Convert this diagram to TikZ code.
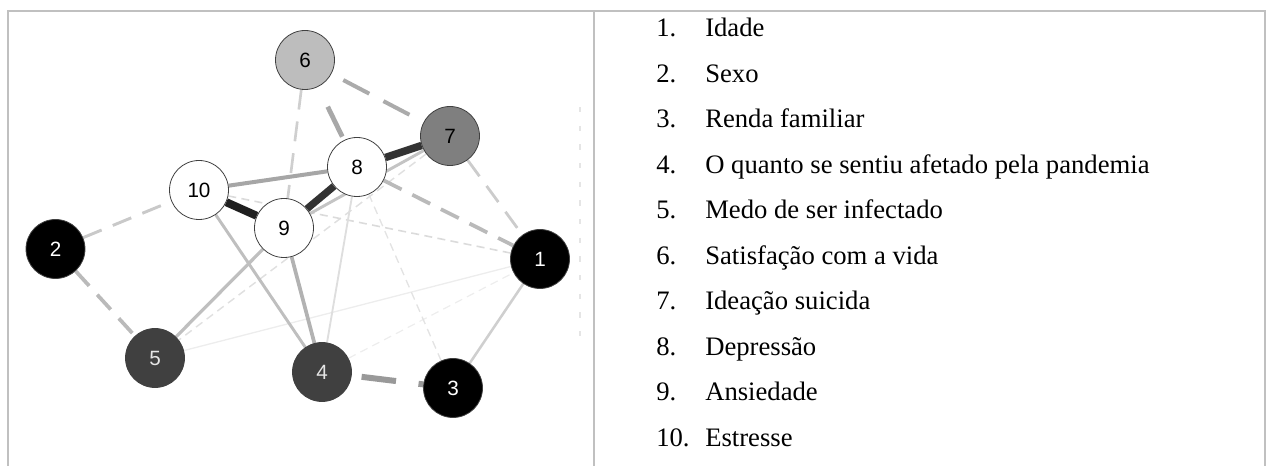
\documentclass[tikz,border=0pt]{standalone}
\usepackage{fontspec}
\setmainfont{Liberation Serif}
\setsansfont{Liberation Sans}
\usepackage{xcolor}
\usetikzlibrary{backgrounds}

\definecolor{rulegray}{HTML}{C0C0C0}
\definecolor{nodedark}{HTML}{404040}
\definecolor{nodemid}{HTML}{7F7F7F}
\definecolor{nodelight}{HTML}{BDBDBD}

\begin{document}
\begin{tikzpicture}[
    x=0.75pt, y=-0.75pt,
    var/.style={circle, draw=black!75, line width=0.6pt, minimum size=44.25pt, inner sep=0pt, font=\sffamily\fontsize{15.5}{16}\selectfont},
    blackvar/.style={var, fill=black, text=white},
    darkvar/.style={var, fill=nodedark, text=white!90!black},
    midvar/.style={var, fill=nodemid},
    lightvar/.style={var, fill=nodelight},
    whitevar/.style={var, fill=white},
    edge/.style={line cap=butt},
    middash/.style={edge, dash pattern=on 15pt off 9pt},
    smalldash/.style={edge, dash pattern=on 6pt off 4pt},
    entry/.style={anchor=base west, inner sep=0pt, font=\fontsize{20}{24}\selectfont},
    rule/.style={draw=rulegray, line width=1.5pt}
]
    \useasboundingbox (0,0) rectangle (1272,466);

    % table frame
    \draw[rule] (8,466) -- (8,11) -- (1265,11) -- (1265,466);
    \draw[rule] (594,11) -- (594,466);
    \draw[gray!20, line width=0.8pt, dash pattern=on 4pt off 10pt] (580,107) -- (580,337);

    % variables
    \node[blackvar] (v1) at (540,259) {1};
    \node[blackvar] (v2) at (55.5,249) {2};
    \node[blackvar] (v3) at (453,388) {3};
    \node[darkvar] (v4) at (322,372) {4};
    \node[darkvar] (v5) at (155,358) {5};
    \node[lightvar] (v6) at (305,60) {6};
    \node[midvar] (v7) at (450,136) {7};
    \node[whitevar] (v8) at (357,167) {8};
    \node[whitevar] (v9) at (284,228) {9};
    \node[whitevar] (v10) at (199,190) {10};

    % edges, weakest first
    \begin{scope}[on background layer]
        \draw[smalldash, draw=black!7, line width=0.9pt] (v4) -- (v1);
        \draw[edge, draw=black!7, line width=1pt] (v5) -- (v1);
        \draw[smalldash, draw=black!11, line width=1pt] (v8) -- (v3);
        \draw[smalldash, draw=black!12, line width=1.1pt] (v7) -- (v5);
        \draw[smalldash, draw=black!14, line width=1.2pt] (v10) -- (v1);
        \draw[edge, draw=black!13, line width=1.4pt] (v8) -- (v4);
        \draw[middash, draw=black!19, line width=2pt] (v6) -- (v9);
        \draw[middash, draw=black!20, line width=2.1pt] (v7) -- (v1);
        \draw[middash, draw=black!21, line width=2.2pt] (v2) -- (v10);
        \draw[edge, draw=black!19, line width=1.9pt] (v1) -- (v3);
        \draw[edge, draw=black!23, line width=2.2pt] (v9) -- (v7);
        \draw[edge, draw=black!25, line width=2.2pt] (v10) -- (v4);
        \draw[edge, draw=black!25, line width=2.4pt] (v9) -- (v5);
        \draw[middash, draw=black!27, line width=2.8pt] (v2) -- (v5);
        \draw[middash, draw=black!27, line width=2.8pt] (v8) -- (v1);
        \draw[edge, draw=black!30, line width=2.8pt] (v9) -- (v4);
        \draw[edge, draw=black!35, line width=3pt] (v10) -- (v8);
        \draw[edge, draw=black!33, line width=3pt, dash pattern=on 22pt off 12pt, dash phase=24pt] (v6) -- (v7);
        \draw[edge, draw=black!34, line width=3.6pt, dash pattern=on 25pt off 17pt, dash phase=25.5pt] (v6) -- (v8);
        \draw[edge, draw=black!40, line width=4.5pt, dash pattern=on 26pt off 17pt, dash phase=35.5pt] (v4) -- (v3);
        \draw[edge, draw=black!80, line width=5.4pt] (v8) -- (v9);
        \draw[edge, draw=black!80, line width=5.6pt] (v8) -- (v7);
        \draw[edge, draw=black!88, line width=6pt] (v10) -- (v9);
    \end{scope}

    % legend
    \node[entry] (e1) at (656,37) {\makebox[36.75pt][l]{1.}Idade};
    \node[entry] (e2) at (656,82.5) {\makebox[36.75pt][l]{2.}Sexo};
    \node[entry] (e3) at (656,128) {\makebox[36.75pt][l]{3.}Renda familiar};
    \node[entry] (e4) at (656,173.5) {\makebox[36.75pt][l]{4.}O quanto se sentiu afetado pela pandemia};
    \node[entry] (e5) at (656,219) {\makebox[36.75pt][l]{5.}Medo de ser infectado};
    \node[entry] (e6) at (656,264.5) {\makebox[36.75pt][l]{6.}Satisfação com a vida};
    \node[entry] (e7) at (656,310) {\makebox[36.75pt][l]{7.}Ideação suicida};
    \node[entry] (e8) at (656,355.5) {\makebox[36.75pt][l]{8.}Depressão};
    \node[entry] (e9) at (656,401) {\makebox[36.75pt][l]{9.}Ansiedade};
    \node[entry] (e10) at (656,446.5) {\makebox[36.75pt][l]{10.}Estresse};
\end{tikzpicture}
\end{document}
